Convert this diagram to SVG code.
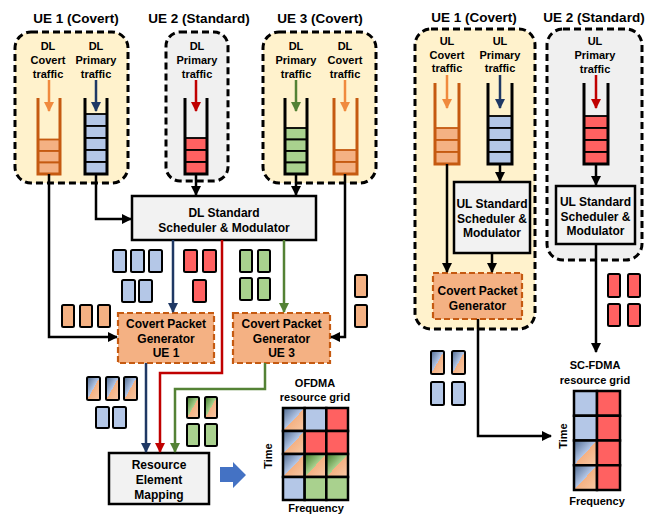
<svg xmlns="http://www.w3.org/2000/svg" width="670" height="516" viewBox="0 0 670 516">
<defs>
<style>
text{font-family:"Liberation Sans",Arial,sans-serif;font-weight:bold;fill:#000;text-anchor:middle}
.t{font-size:13.5px}
.s{font-size:11px}
.m{font-size:12px}
.ue-y{fill:#FFF2CC;stroke:#000;stroke-width:3;stroke-dasharray:7 4}
.ue-g{fill:#F0F0F0;stroke:#000;stroke-width:3;stroke-dasharray:7 4}
.box{fill:#F2F2F2;stroke:#000;stroke-width:2.5}
.cpg{fill:#F4B183;stroke:#C55A11;stroke-width:2.2;stroke-dasharray:6 3}
.wall{fill:none;stroke:#000;stroke-width:3}
.wallo{fill:none;stroke:#C55A11;stroke-width:3}
.cb{fill:#B4C7E7;stroke:#000;stroke-width:1.8}
.cr{fill:#FF6161;stroke:#000;stroke-width:1.8}
.cgn{fill:#A9D18E;stroke:#000;stroke-width:1.8}
.co{fill:#F4B183;stroke:#C55A11;stroke-width:1.8}
.pk{stroke:#000;stroke-width:2}
.g{stroke:#000;stroke-width:2.5}
.ln{fill:none;stroke-width:2.5}
.k{stroke:#000;marker-end:url(#ak)}
.nv{stroke:#1F3864;marker-end:url(#anv)}
.rd{stroke:#C00000;marker-end:url(#ard)}
.gr{stroke:#548235;marker-end:url(#agr)}
.or{stroke:#F08A3E;marker-end:url(#aor)}
</style>
<marker id="ak" viewBox="0 0 10 10" refX="9" refY="5" markerUnits="userSpaceOnUse" markerWidth="10" markerHeight="10" orient="auto"><path d="M0,0 L10,5 L0,10 z" fill="#000"/></marker>
<marker id="anv" viewBox="0 0 10 10" refX="9" refY="5" markerUnits="userSpaceOnUse" markerWidth="10" markerHeight="10" orient="auto"><path d="M0,0 L10,5 L0,10 z" fill="#1F3864"/></marker>
<marker id="ard" viewBox="0 0 10 10" refX="9" refY="5" markerUnits="userSpaceOnUse" markerWidth="10" markerHeight="10" orient="auto"><path d="M0,0 L10,5 L0,10 z" fill="#C00000"/></marker>
<marker id="agr" viewBox="0 0 10 10" refX="9" refY="5" markerUnits="userSpaceOnUse" markerWidth="10" markerHeight="10" orient="auto"><path d="M0,0 L10,5 L0,10 z" fill="#548235"/></marker>
<marker id="aor" viewBox="0 0 10 10" refX="9" refY="5" markerUnits="userSpaceOnUse" markerWidth="10" markerHeight="10" orient="auto"><path d="M0,0 L10,5 L0,10 z" fill="#F08A3E"/></marker>
<linearGradient id="gb" x1="0" y1="0" x2="1" y2="1">
<stop offset="0" stop-color="#4F6A90"/><stop offset="0.5" stop-color="#B4C7E7"/><stop offset="0.5" stop-color="#F4B183"/><stop offset="1" stop-color="#F8C9A6"/>
</linearGradient>
<linearGradient id="gg" x1="0" y1="0" x2="1" y2="1">
<stop offset="0" stop-color="#3F7A2A"/><stop offset="0.5" stop-color="#A9D18E"/><stop offset="0.5" stop-color="#F4B183"/><stop offset="1" stop-color="#F8C9A6"/>
</linearGradient>
</defs>
<rect width="670" height="516" fill="#fff"/>

<!-- Titles -->
<text class="t" x="76" y="23">UE 1 (Covert)</text>
<text class="t" x="199" y="23">UE 2 (Standard)</text>
<text class="t" x="320" y="23">UE 3 (Covert)</text>
<text class="t" x="474" y="22">UE 1 (Covert)</text>
<text class="t" x="594" y="22">UE 2 (Standard)</text>

<!-- DL UE1 -->
<g id="dl-ue1">
<rect class="ue-y" x="15" y="32" width="113" height="151" rx="16"/>
<text class="s" x="48" y="50">DL</text><text class="s" x="48" y="64">Covert</text><text class="s" x="48" y="77.5">traffic</text>
<text class="s" x="96" y="50">DL</text><text class="s" x="96" y="64">Primary</text><text class="s" x="96" y="77.5">traffic</text>
<rect class="co" x="38" y="139.5" width="22" height="11.5"/><rect class="co" x="38" y="151" width="22" height="11.5"/><rect class="co" x="38" y="162.5" width="22" height="11.5"/>
<path class="wallo" d="M38,98 V174 H60 V98"/>
<rect class="cb" x="85" y="114" width="22" height="12"/><rect class="cb" x="85" y="126" width="22" height="12"/><rect class="cb" x="85" y="138" width="22" height="12"/><rect class="cb" x="85" y="150" width="22" height="12"/><rect class="cb" x="85" y="162" width="22" height="12"/>
<path class="wall" d="M85,98 V174 H107 V98"/>
</g>

<!-- DL UE2 -->
<g id="dl-ue2">
<rect class="ue-g" x="166" y="32" width="62" height="149" rx="14"/>
<text class="s" x="197" y="50">DL</text><text class="s" x="197" y="64">Primary</text><text class="s" x="197" y="77.5">traffic</text>
<rect class="cr" x="185" y="138" width="22" height="12"/><rect class="cr" x="185" y="150" width="22" height="12"/><rect class="cr" x="185" y="162" width="22" height="12"/>
<path class="wall" d="M185,98 V174 H207 V98"/>
</g>

<!-- DL UE3 -->
<g id="dl-ue3">
<rect class="ue-y" x="263" y="32" width="113" height="151" rx="16"/>
<text class="s" x="296" y="50">DL</text><text class="s" x="296" y="64">Primary</text><text class="s" x="296" y="77.5">traffic</text>
<text class="s" x="345" y="50">DL</text><text class="s" x="345" y="64">Covert</text><text class="s" x="345" y="77.5">traffic</text>
<rect class="cgn" x="285" y="128" width="22" height="11.5"/><rect class="cgn" x="285" y="139.5" width="22" height="11.5"/><rect class="cgn" x="285" y="151" width="22" height="11.5"/><rect class="cgn" x="285" y="162.5" width="22" height="11.5"/>
<path class="wall" d="M285,98 V174 H307 V98"/>
<rect class="co" x="334" y="150" width="23" height="12"/><rect class="co" x="334" y="162" width="23" height="12"/>
<path class="wallo" d="M334,98 V174 H357 V98"/>
</g>

<!-- DL scheduler -->
<g id="dl-sched">
<rect class="box" x="132" y="196" width="184" height="44"/>
<text class="m" x="224" y="217">DL Standard</text>
<text class="m" x="224" y="232">Scheduler &amp; Modulator</text>
</g>

<g id="cpg-ue1">
<rect class="cpg" x="118" y="313" width="96" height="50"/>
<text class="m" x="166" y="328">Covert Packet</text><text class="m" x="166" y="343">Generator</text><text class="m" x="166" y="357">UE 1</text>
</g>
<g id="cpg-ue3">
<rect class="cpg" x="233" y="313" width="97" height="50"/>
<text class="m" x="281.5" y="328">Covert Packet</text><text class="m" x="281.5" y="343">Generator</text><text class="m" x="281.5" y="357">UE 3</text>
</g>

<g id="re-map">
<rect class="box" x="109" y="453" width="100" height="51"/>
<text class="m" x="159" y="469">Resource</text><text class="m" x="159" y="484">Element</text><text class="m" x="159" y="499">Mapping</text>
</g>

<!-- Packets DL -->
<g id="packets-dl">
<rect class="pk" fill="#B4C7E7" x="113" y="250" width="13" height="22" rx="1.5"/>
<rect class="pk" fill="#B4C7E7" x="131" y="250" width="13" height="22" rx="1.5"/>
<rect class="pk" fill="#B4C7E7" x="149" y="250" width="13" height="22" rx="1.5"/>
<rect class="pk" fill="#B4C7E7" x="122" y="280" width="13" height="22" rx="1.5"/>
<rect class="pk" fill="#B4C7E7" x="139" y="280" width="13" height="22" rx="1.5"/>
<rect class="pk" fill="#FF6161" x="184" y="250" width="13" height="22" rx="1.5"/>
<rect class="pk" fill="#FF6161" x="203" y="250" width="13" height="22" rx="1.5"/>
<rect class="pk" fill="#FF6161" x="193" y="280" width="13" height="22" rx="1.5"/>
<rect class="pk" fill="#A9D18E" x="240" y="250" width="12" height="22" rx="1.5"/>
<rect class="pk" fill="#A9D18E" x="258" y="250" width="12" height="22" rx="1.5"/>
<rect class="pk" fill="#A9D18E" x="240" y="278" width="12" height="22" rx="1.5"/>
<rect class="pk" fill="#A9D18E" x="258" y="278" width="12" height="22" rx="1.5"/>
<rect class="pk" fill="#F4B183" x="62" y="305" width="12" height="22" rx="1.5"/>
<rect class="pk" fill="#F4B183" x="80" y="305" width="12" height="22" rx="1.5"/>
<rect class="pk" fill="#F4B183" x="98" y="305" width="12" height="22" rx="1.5"/>
<rect class="pk" fill="#F4B183" x="355" y="275" width="12" height="22" rx="1.5"/>
<rect class="pk" fill="#F4B183" x="355" y="305" width="12" height="22" rx="1.5"/>
<rect class="pk" fill="url(#gb)" x="87" y="377" width="13" height="23" rx="1.5"/>
<rect class="pk" fill="url(#gb)" x="106" y="377" width="13" height="23" rx="1.5"/>
<rect class="pk" fill="url(#gb)" x="124" y="377" width="13" height="23" rx="1.5"/>
<rect class="pk" fill="#B4C7E7" x="96" y="407" width="13" height="21" rx="1.5"/>
<rect class="pk" fill="#B4C7E7" x="113" y="407" width="13" height="21" rx="1.5"/>
<rect class="pk" fill="url(#gg)" x="187" y="397" width="12" height="21" rx="1.5"/>
<rect class="pk" fill="url(#gg)" x="205" y="397" width="12" height="21" rx="1.5"/>
<rect class="pk" fill="#A9D18E" x="187" y="424" width="12" height="22" rx="1.5"/>
<rect class="pk" fill="#A9D18E" x="205" y="424" width="12" height="22" rx="1.5"/>
</g>

<!-- OFDMA grid -->
<g id="ofdma-grid">
<text class="s" x="315" y="387">OFDMA</text>
<text class="s" x="315" y="401">resource grid</text>
<text class="s" transform="translate(272,456) rotate(-90)" x="0" y="0">Time</text>
<text class="s" x="316" y="512">Frequency</text>
<rect class="g" fill="url(#gb)" x="283" y="408" width="21.67" height="23"/>
<rect class="g" fill="#B4C7E7" x="304.67" y="408" width="21.67" height="23"/>
<rect class="g" fill="#FF6161" x="326.33" y="408" width="21.67" height="23"/>
<rect class="g" fill="url(#gb)" x="283" y="431" width="21.67" height="23"/>
<rect class="g" fill="#FF6161" x="304.67" y="431" width="21.67" height="23"/>
<rect class="g" fill="#FF6161" x="326.33" y="431" width="21.67" height="23"/>
<rect class="g" fill="url(#gb)" x="283" y="454" width="21.67" height="23"/>
<rect class="g" fill="url(#gg)" x="304.67" y="454" width="21.67" height="23"/>
<rect class="g" fill="url(#gg)" x="326.33" y="454" width="21.67" height="23"/>
<rect class="g" fill="#B4C7E7" x="283" y="477" width="21.67" height="23"/>
<rect class="g" fill="#A9D18E" x="304.67" y="477" width="21.67" height="23"/>
<rect class="g" fill="#A9D18E" x="326.33" y="477" width="21.67" height="23"/>
</g>

<!-- UL UE1 -->
<g id="ul-ue1">
<rect class="ue-y" x="415" y="29" width="120" height="300" rx="16"/>
<text class="s" x="447" y="45">UL</text><text class="s" x="447" y="58.5">Covert</text><text class="s" x="447" y="72">traffic</text>
<text class="s" x="500" y="45">UL</text><text class="s" x="500" y="58.5">Primary</text><text class="s" x="500" y="72">traffic</text>
<rect class="co" x="435" y="128" width="24" height="12"/><rect class="co" x="435" y="140" width="24" height="12"/><rect class="co" x="435" y="152" width="24" height="12"/>
<path class="wallo" d="M435,83 V164 H459 V83"/>
<rect class="cb" x="488" y="116" width="24" height="12"/><rect class="cb" x="488" y="128" width="24" height="12"/><rect class="cb" x="488" y="140" width="24" height="12"/><rect class="cb" x="488" y="152" width="24" height="12"/>
<path class="wall" d="M488,83 V164 H512 V83"/>
</g>
<g id="ul-sched-ue1">
<rect class="box" x="454" y="182" width="76" height="71"/>
<text class="m" x="492" y="208">UL Standard</text><text class="m" x="492" y="223">Scheduler &amp;</text><text class="m" x="492" y="237">Modulator</text>
</g>
<g id="ul-cpg">
<rect class="cpg" x="433" y="273" width="89" height="46"/>
<text class="m" x="477.5" y="295">Covert Packet</text><text class="m" x="477.5" y="310">Generator</text>
</g>

<!-- UL UE2 -->
<g id="ul-ue2">
<rect class="ue-g" x="547" y="29" width="95" height="231" rx="16"/>
<text class="s" x="595" y="45">UL</text><text class="s" x="595" y="58.5">Primary</text><text class="s" x="595" y="73">traffic</text>
<rect class="cr" x="584" y="116" width="24" height="12"/><rect class="cr" x="584" y="128" width="24" height="12"/><rect class="cr" x="584" y="140" width="24" height="12"/><rect class="cr" x="584" y="152" width="24" height="12"/>
<path class="wall" d="M584,83 V164 H608 V83"/>
</g>
<g id="ul-sched-ue2">
<rect class="box" x="556" y="186" width="79" height="58"/>
<text class="m" x="595.5" y="206">UL Standard</text><text class="m" x="595.5" y="221">Scheduler &amp;</text><text class="m" x="595.5" y="235">Modulator</text>
</g>

<!-- Packets UL -->
<g id="packets-ul">
<rect class="pk" fill="#FF6161" x="608" y="274" width="12" height="23" rx="1.5"/>
<rect class="pk" fill="#FF6161" x="628" y="274" width="12" height="23" rx="1.5"/>
<rect class="pk" fill="#FF6161" x="608" y="304" width="12" height="22" rx="1.5"/>
<rect class="pk" fill="#FF6161" x="628" y="304" width="12" height="22" rx="1.5"/>
<rect class="pk" fill="url(#gb)" x="431" y="351" width="13" height="23" rx="1.5"/>
<rect class="pk" fill="url(#gb)" x="452" y="351" width="13" height="23" rx="1.5"/>
<rect class="pk" fill="#B4C7E7" x="431" y="382" width="13" height="23" rx="1.5"/>
<rect class="pk" fill="#B4C7E7" x="452" y="382" width="13" height="23" rx="1.5"/>
</g>

<!-- SC-FDMA grid -->
<g id="scfdma-grid">
<text class="s" x="595" y="369">SC-FDMA</text>
<text class="s" x="595" y="384">resource grid</text>
<text class="s" transform="translate(567,436) rotate(-90)" x="0" y="0">Time</text>
<text class="s" x="597" y="505">Frequency</text>
<rect class="g" fill="#B4C7E7" x="574" y="391" width="23" height="24.75"/>
<rect class="g" fill="#FF6161" x="597" y="391" width="23" height="24.75"/>
<rect class="g" fill="#B4C7E7" x="574" y="415.75" width="23" height="24.75"/>
<rect class="g" fill="#FF6161" x="597" y="415.75" width="23" height="24.75"/>
<rect class="g" fill="url(#gb)" x="574" y="440.5" width="23" height="24.75"/>
<rect class="g" fill="#FF6161" x="597" y="440.5" width="23" height="24.75"/>
<rect class="g" fill="url(#gb)" x="574" y="465.25" width="23" height="24.75"/>
<rect class="g" fill="#FF6161" x="597" y="465.25" width="23" height="24.75"/>
</g>

<!-- Connectors -->
<g id="connectors">
<path class="ln or" d="M49,80 V111"/>
<path class="ln nv" d="M96,80 V111"/>
<path class="ln rd" d="M196,80 V111"/>
<path class="ln gr" d="M296,80 V111"/>
<path class="ln or" d="M345,80 V111"/>
<path class="ln or" d="M447,75 V108"/>
<path class="ln nv" d="M500,75 V108"/>
<path class="ln rd" d="M596,75 V108"/>

<path class="ln k" d="M49,174 V337 H117"/>
<path class="ln k" d="M96,174 V219 H131"/>
<path class="ln k" d="M196,174 V195"/>
<path class="ln k" d="M296,174 V195"/>
<path class="ln k" d="M345,174 V337 H331"/>
<path class="ln nv" d="M173,240 V312"/>
<path class="ln gr" d="M284,240 V312"/>
<path class="ln rd" d="M222,240 V373 H160 V452"/>
<path class="ln nv" d="M146,363 V452"/>
<path class="ln gr" d="M265,363 V389 H175 V452"/>
<polygon points="220,467 233,467 233,462 246,475 233,488 233,482 220,482" fill="#4472C4"/>

<path class="ln k" d="M447,164 V272"/>
<path class="ln k" d="M500,164 V181"/>
<path class="ln k" d="M492,253 V272"/>
<path class="ln k" d="M596,164 V185"/>
<path class="ln k" d="M596,244 V352"/>
<path class="ln k" d="M478,319 V436 H551"/>
</g>
</svg>
